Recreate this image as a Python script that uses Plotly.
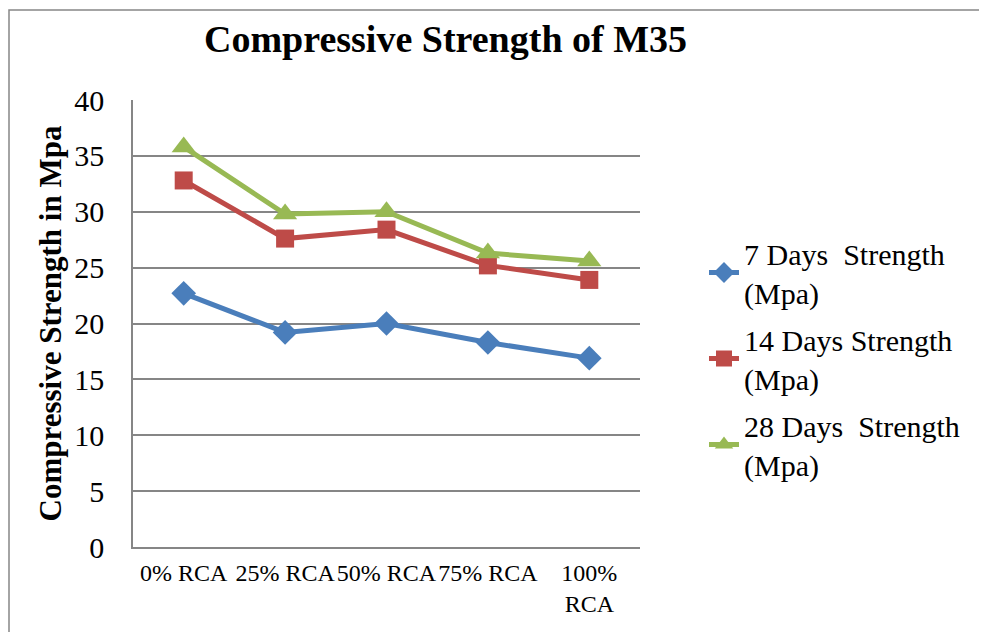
import plotly.graph_objects as go

categories = ["0% RCA", "25% RCA", "50% RCA", "75% RCA", "100%<br>RCA"]
days7 = [22.7, 19.2, 20.0, 18.3, 16.9]
days14 = [32.8, 27.6, 28.4, 25.2, 23.9]
days28 = [35.8, 29.8, 30.0, 26.3, 25.6]
series_names = ["7 Days  Strength<br>(Mpa)", "14 Days Strength<br>(Mpa)", "28 Days  Strength<br>(Mpa)"]
yticks = [0, 5, 10, 15, 20, 25, 30, 35, 40]

FONT = "Liberation Serif, Times New Roman, serif"
OFF = 8  # page body margin
W, H = 987 - OFF, 632 - OFF
L, R, T, B = 133 - OFF, 640 - OFF, 100 - OFF, 547 - OFF

def px_x(p):
    return (p - OFF - L) / (R - L)

def px_y(p):
    return (B - (p - OFF)) / (B - T)

fig = go.Figure()
styles = [
    ("#4a7ebb", "diamond", 19),
    ("#be4b48", "square", 18),
    ("#98b954", "triangle-up", 21),
]
for i, (name, vals, (col, sym, sz)) in enumerate(zip(series_names, [days7, days14, days28], styles)):
    fig.add_trace(go.Scatter(
        x=categories, y=vals, name=name, mode="lines+markers", legendgroup=f"g{i}",
        line=dict(color=col, width=5),
        marker=dict(symbol=sym, size=sz, color=col),
    ))

fig.update_layout(
    width=W, height=H,
    margin=dict(l=L, r=W - R, t=T, b=H - B),
    paper_bgcolor="white", plot_bgcolor="white",
    font=dict(family=FONT, color="black"),
    showlegend=True,
    legend=dict(
        x=px_x(704), y=px_y(227), xanchor="left", yanchor="top",
        font=dict(size=30, family=FONT), tracegroupgap=5,
        bgcolor="rgba(0,0,0,0)",
    ),
    xaxis=dict(
        type="category", range=[-0.5, 4.5], showgrid=False, showline=True,
        linecolor="#868686", linewidth=1.5,
        ticks="", tickfont=dict(size=24, family=FONT), tickangle=0, ticklabelstandoff=3,
    ),
    yaxis=dict(
        range=[0, 40], tickvals=yticks, showgrid=True, gridcolor="#868686", gridwidth=1.5,
        showline=True, linecolor="#868686", linewidth=1.5, ticks="",
        tickfont=dict(size=30, family=FONT), ticklabelstandoff=21,
        title=dict(text="<b>Compressive Strength in Mpa</b>", font=dict(size=31, family=FONT), standoff=3),
        zeroline=False,
    ),
    annotations=[dict(
        text="<b>Compressive Strength of M35</b>", x=px_x(445), y=px_y(39),
        xref="paper", yref="paper", showarrow=False, xanchor="center", yanchor="middle",
        font=dict(size=38, family=FONT, color="black"),
    )],
    shapes=[dict(
        type="rect", xref="paper", yref="paper",
        x0=px_x(9), x1=px_x(1000), y0=px_y(650), y1=px_y(10),
        line=dict(color="#868686", width=1.5), layer="below",
    )],
)

fig.write_html("out.html")
